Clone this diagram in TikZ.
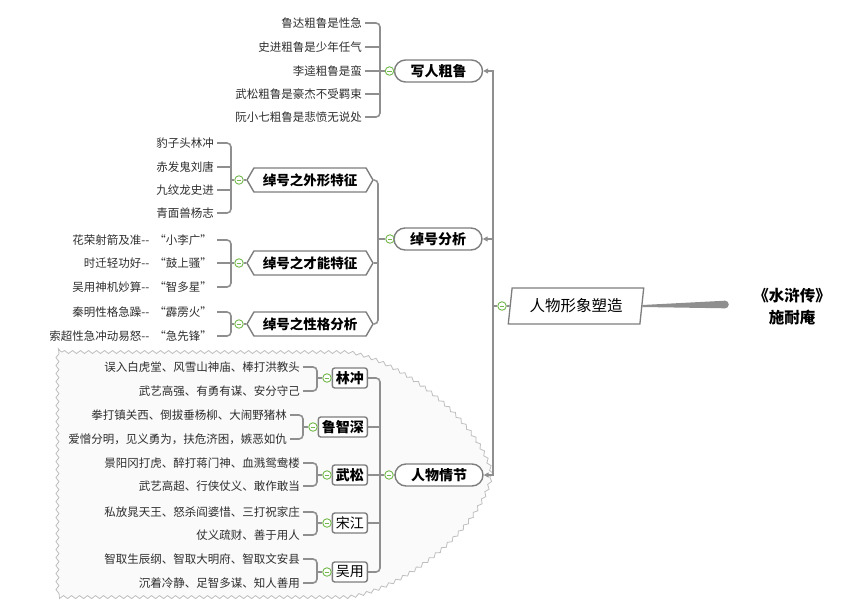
\documentclass[tikz,border=0pt]{standalone}
\usepackage{fontspec}
\newfontfamily\cjk{Noto Sans CJK SC}
\usetikzlibrary{shapes.geometric,shapes.misc,shapes.symbols,decorations.pathmorphing,arrows.meta}
\definecolor{lc}{HTML}{8F8F8F}
\definecolor{bc}{HTML}{7D7D7D}
\definecolor{gc}{HTML}{72B84A}
\definecolor{txt}{HTML}{2E2E2E}
\definecolor{cfill}{HTML}{FAFAFA}
\definecolor{cline}{HTML}{BEBEBE}
\newcommand{\myopq}{\hspace{5pt}“}
\begin{document}
\begin{tikzpicture}[x=1pt,y=-1pt,
  leaf/.style={anchor=east,inner sep=0pt,text=txt,font=\cjk\fontsize{11.5}{13}\selectfont},
  conn/.style={draw=lc,line width=1.6pt},
  brk/.style={conn,rounded corners=4pt},
  mk/.style={circle,draw=gc,fill=white,line width=0.9pt,minimum size=8.5pt,inner sep=0pt,
    path picture={\draw[gc,line width=1pt] ([xshift=-2.3pt]path picture bounding box.center) -- ([xshift=2.3pt]path picture bounding box.center);}},
  branch/.style={rounded rectangle,draw=bc,fill=white,line width=1.4pt,minimum width=88pt,minimum height=22pt,inner sep=0pt,font=\cjk\bfseries\fontsize{14}{16}\selectfont},
  chev/.style={signal,signal to=west and east,signal pointer angle=120,draw=bc,fill=white,line width=1.4pt,minimum width=126pt,minimum height=24pt,inner sep=0pt,font=\cjk\bfseries\fontsize{13.5}{15}\selectfont},
  hero/.style={rectangle,rounded corners=2.5pt,draw=bc,fill=white,line width=1.4pt,minimum height=20pt,inner xsep=3.5pt,inner ysep=0pt,anchor=east,font=\cjk\bfseries\fontsize{14}{16}\selectfont},
  heror/.style={hero,font=\cjk\fontsize{14}{16}\selectfont},
  arr/.style={conn,-{Triangle[length=5pt,width=5pt]}},
  cloud/.style={draw=cline,fill=cfill,line width=0.8pt,decorate,decoration={snake,segment length=8pt,amplitude=1.5pt}},
]
\useasboundingbox (0,0) rectangle (847,611);

% cloud boundary
\path[cloud] (62,352) -- (345,352) .. controls (400,360) and (478,422) .. (490,475)
  .. controls (480,530) and (400,592) .. (345,598) -- (62,598) .. controls (55,598) .. (55,591)
  -- (55,359) .. controls (55,352) .. (62,352) -- cycle;

% root
\node[inner sep=0pt,font=\cjk\bfseries\fontsize{15.5}{17}\selectfont] (title) at (792,296) {《水浒传》};
\node[inner sep=0pt,font=\cjk\bfseries\fontsize{15.5}{17}\selectfont] (author) at (792,317) {施耐庵};

% main topic
\node[trapezium,trapezium left angle=79,trapezium right angle=101,trapezium stretches=true,
  draw=bc,fill=white,line width=1.3pt,minimum width=136pt,minimum height=36pt,inner sep=0pt,
  font=\cjk\fontsize{15.5}{17}\selectfont] (main) at (576,306) {人物形象塑造};
\coordinate (tl) at (725,304.5);
\fill[lc] ([yshift=1pt]main.east) -- ([yshift=3.8pt]tl) -- ([yshift=-3.8pt]tl) -- ([yshift=-1pt]main.east) -- cycle;
\fill[lc] (tl) circle[radius=3.8pt];

\node[mk] (cm) at (502,306) {};
\draw[conn] (cm.east) -- (main.west);
\coordinate (T) at (493,306);
\draw[conn] (cm.west) -- (T);

% branches
\node[branch] (b1) at (438.5,71) {写人粗鲁};
\node[branch] (b2) at (438,239) {绰号分析};
\node[branch] (b3) at (439,475) {人物情节};
\draw[arr] (T) |- (b1.east);
\draw[arr] (T) |- (b2.east);
\draw[arr] (T) |- (b3.east);
\node[mk] (c1) at (389.5,71) {};
\node[mk] (c2) at (390,239) {};
\node[mk] (c3) at (389,475) {};
\draw[conn] (c1.east) -- (b1.west);
\draw[conn] (c2.east) -- (b2.west);
\draw[conn] (c3.east) -- (b3.west);

% group 1
\node[leaf] (l11) at (362,23) {鲁达粗鲁是性急};
\node[leaf] (l12) at (362,47) {史进粗鲁是少年任气};
\node[leaf] (l13) at (362,71) {李逵粗鲁是蛮};
\node[leaf] (l14) at (362,94) {武松粗鲁是豪杰不受羁束};
\node[leaf] (l15) at (362,117) {阮小七粗鲁是悲愤无说处};
\coordinate (k1) at (380,71);
\draw[brk] ([xshift=3pt]l11.east) -| (k1 |- l15.east) -- ([xshift=3pt]l15.east);
\draw[conn] ([xshift=3pt]l12.east) -- (k1 |- l12.east);
\draw[conn] ([xshift=3pt]l13.east) -- (k1 |- l13.east);
\draw[conn] ([xshift=3pt]l14.east) -- (k1 |- l14.east);
\draw[conn] (k1) -- (c1.west);

% group 2
\node[chev] (s1) at (310,180) {绰号之外形特征};
\node[chev] (s2) at (310,263) {绰号之才能特征};
\node[chev] (s3) at (310,324) {绰号之性格分析};
\node[mk] (cs1) at (239,180) {};
\node[mk] (cs2) at (239,263) {};
\node[mk] (cs3) at (239,324) {};
\draw[conn] (cs1.east) -- (s1.west);
\draw[conn] (cs2.east) -- (s2.west);
\draw[conn] (cs3.east) -- (s3.west);
\coordinate (k2) at (378,239);
\draw[brk] (s1.east) -| (k2 |- s3.east) -- (s3.east);
\draw[conn] (s2.east) -- (k2 |- s2.east);
\draw[conn] (k2) -- (c2.west);

\node[leaf] (l21) at (214,143) {豹子头林冲};
\node[leaf] (l22) at (214,167) {赤发鬼刘唐};
\node[leaf] (l23) at (214,190) {九纹龙史进};
\node[leaf] (l24) at (214,213) {青面兽杨志};
\coordinate (k21) at (231,180);
\draw[brk] ([xshift=3pt]l21.east) -| (k21 |- l24.east) -- ([xshift=3pt]l24.east);
\draw[conn] ([xshift=3pt]l22.east) -- (k21 |- l22.east);
\draw[conn] ([xshift=3pt]l23.east) -- (k21 |- l23.east);
\draw[conn] (k21) -- (cs1.west);

\node[leaf] (l31) at (212,240) {花荣射箭及准{-}{-}\myopq 小李广”};
\node[leaf] (l32) at (212,263) {时迁轻功好{-}{-}\myopq 鼓上骚”};
\node[leaf] (l33) at (212,287) {吴用神机妙算{-}{-}\myopq 智多星”};
\coordinate (k22) at (231,263);
\draw[brk] ([xshift=5pt]l31.east) -| (k22 |- l33.east) -- ([xshift=5pt]l33.east);
\draw[conn] ([xshift=5pt]l32.east) -- (k22 |- l32.east);
\draw[conn] (k22) -- (cs2.west);

\node[leaf] (l41) at (212,312) {秦明性格急躁{-}{-}\myopq 霹雳火”};
\node[leaf] (l42) at (212,336) {索超性急冲动易怒{-}{-}\myopq 急先锋”};
\coordinate (k23) at (231,324);
\draw[brk] ([xshift=5pt]l41.east) -| (k23 |- l42.east) -- ([xshift=5pt]l42.east);
\draw[conn] (k23) -- (cs3.west);

% group 3
\node[hero] (h1) at (368,378) {林冲};
\node[hero] (h2) at (368,427) {鲁智深};
\node[hero] (h3) at (368,475) {武松};
\node[heror] (h4) at (368,523) {宋江};
\node[heror] (h5) at (368,572) {吴用};
\node[mk] (ch1) at (327,378) {};
\node[mk] (ch2) at (313,427) {};
\node[mk] (ch3) at (327,475) {};
\node[mk] (ch4) at (327,523) {};
\node[mk] (ch5) at (327,572) {};
\draw[conn] (ch1.east) -- (h1.west);
\draw[conn] (ch2.east) -- (h2.west);
\draw[conn] (ch3.east) -- (h3.west);
\draw[conn] (ch4.east) -- (h4.west);
\draw[conn] (ch5.east) -- (h5.west);
\coordinate (k3) at (380,475);
\draw[brk] (h1.east) -| (k3 |- h5.east) -- (h5.east);
\draw[conn] (h2.east) -- (k3 |- h2.east);
\draw[conn] (h3.east) -- (k3 |- h3.east);
\draw[conn] (h4.east) -- (k3 |- h4.east);
\draw[conn] (k3) -- (c3.west);

\node[leaf] (m11) at (300,367) {误入白虎堂、风雪山神庙、棒打洪教头};
\node[leaf] (m12) at (300,391) {武艺高强、有勇有谋、安分守己};
\coordinate (k31) at (317,378);
\draw[brk] ([xshift=3pt]m11.east) -| (k31 |- m12.east) -- ([xshift=3pt]m12.east);
\draw[conn] (k31) -- (ch1.west);

\node[leaf] (m21) at (287,415) {拳打镇关西、倒拔垂杨柳、大闹野猪林};
\node[leaf] (m22) at (287,439) {爱憎分明，见义勇为，扶危济困，嫉恶如仇};
\coordinate (k32) at (303,427);
\draw[brk] ([xshift=3pt]m21.east) -| (k32 |- m22.east) -- ([xshift=3pt]m22.east);
\draw[conn] (k32) -- (ch2.west);

\node[leaf] (m31) at (300,463) {景阳冈打虎、醉打蒋门神、血溅鸳鸯楼};
\node[leaf] (m32) at (300,486) {武艺高超、行侠仗义、敢作敢当};
\coordinate (k33) at (317,475);
\draw[brk] ([xshift=3pt]m31.east) -| (k33 |- m32.east) -- ([xshift=3pt]m32.east);
\draw[conn] (k33) -- (ch3.west);

\node[leaf] (m41) at (300,512) {私放晁天王、怒杀阎婆惜、三打祝家庄};
\node[leaf] (m42) at (300,535) {仗义疏财、善于用人};
\coordinate (k34) at (317,523);
\draw[brk] ([xshift=3pt]m41.east) -| (k34 |- m42.east) -- ([xshift=3pt]m42.east);
\draw[conn] (k34) -- (ch4.west);

\node[leaf] (m51) at (300,559) {智取生辰纲、智取大明府、智取文安县};
\node[leaf] (m52) at (300,583) {沉着冷静、足智多谋、知人善用};
\coordinate (k35) at (317,572);
\draw[brk] ([xshift=3pt]m51.east) -| (k35 |- m52.east) -- ([xshift=3pt]m52.east);
\draw[conn] (k35) -- (ch5.west);
\end{tikzpicture}
\end{document}
